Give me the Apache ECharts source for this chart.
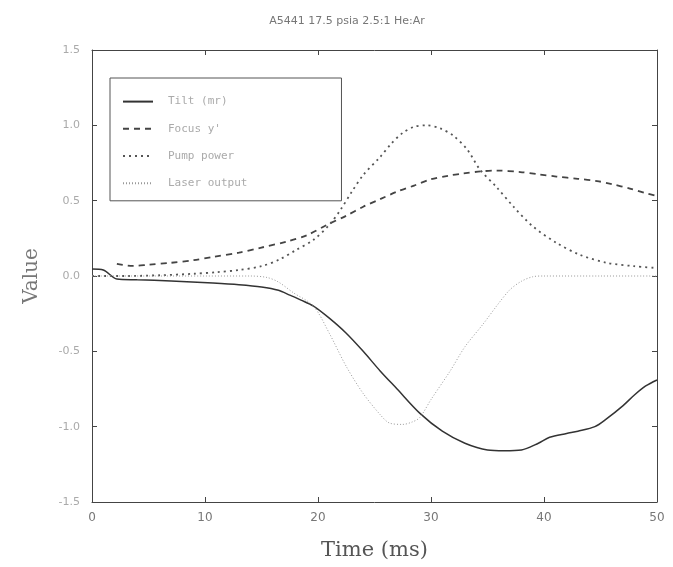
<!DOCTYPE html>
<html><head><meta charset="utf-8">
<script src="https://cdn.jsdelivr.net/npm/echarts@6/dist/echarts.min.js"></script>
<style>html,body{margin:0;padding:0;background:#fff}#c{width:673px;height:567px}</style>
</head><body><div id="c"></div>
<script>
var titleText = "A5441 17.5 psia 2.5:1 He:Ar";
var seriesNames = ["Tilt (mr)", "Focus y'", "Pump power", "Laser output"];

var tiltX = [0, 1, 2.2, 4, 7, 10.7, 13, 15, 16.5, 17.5, 18.5, 19.6, 21, 22.5, 24, 25.5, 27, 29, 31, 33, 35, 36.5, 38, 39.5, 40.5, 42, 43, 44.5, 45.5, 47, 48, 49, 50];
var tiltY = [0.047, 0.04, -0.02, -0.025, -0.033, -0.047, -0.058, -0.073, -0.095, -0.127, -0.16, -0.2, -0.28, -0.38, -0.5, -0.63, -0.75, -0.91, -1.03, -1.11, -1.155, -1.16, -1.155, -1.11, -1.07, -1.045, -1.03, -1.0, -0.95, -0.86, -0.79, -0.73, -0.69];

var focusX = [2.2, 3.6, 5, 6.9, 9, 10.7, 13, 14.9, 17.3, 19, 20.8, 22.5, 24, 25.5, 27, 28.5, 29.9, 31.5, 32.8, 34.5, 35.8, 37.9, 39.5, 41.1, 43, 44.7, 46, 47.6, 49, 50];
var focusY = [0.08, 0.067, 0.075, 0.087, 0.105, 0.127, 0.155, 0.187, 0.23, 0.27, 0.34, 0.4, 0.46, 0.51, 0.56, 0.6, 0.64, 0.665, 0.68, 0.695, 0.70, 0.69, 0.675, 0.66, 0.645, 0.63, 0.61, 0.58, 0.55, 0.53];

var pumpX = [0, 3, 6, 9, 11, 13, 15, 16.6, 18, 19.6, 21, 22, 23, 24, 25.5, 26.5, 27.5, 28.5, 29.6, 30.8, 32, 33.2, 34.3, 35.8, 37.3, 39, 41.1, 43.2, 45.6, 48, 50];
var pumpY = [0, 0, 0.005, 0.015, 0.025, 0.04, 0.065, 0.11, 0.17, 0.24, 0.34, 0.44, 0.56, 0.67, 0.79, 0.88, 0.95, 0.99, 1.0, 0.98, 0.93, 0.84, 0.71, 0.59, 0.46, 0.33, 0.22, 0.14, 0.087, 0.065, 0.053];

var laserX = [0, 5, 10, 14, 15.5, 16.5, 17.8, 19.6, 21, 22.5, 24, 25.5, 26.3, 27.5, 28.3, 29, 30, 31.7, 33, 34.6, 36, 37, 38, 39, 40, 45, 50];
var laserY = [0, 0, 0, 0, -0.01, -0.04, -0.11, -0.2, -0.38, -0.6, -0.78, -0.92, -0.975, -0.985, -0.97, -0.94, -0.82, -0.63, -0.47, -0.32, -0.18, -0.09, -0.035, -0.005, 0, 0, 0];

var xTicks = [0, 10, 20, 30, 40, 50];
var yTicks = [-1.5, -1.0, -0.5, 0.0, 0.5, 1.0, 1.5];

function pairs(xs, ys) { return xs.map(function (x, i) { return [x, ys[i]]; }); }

var chart = echarts.init(document.getElementById('c'));
var axisLine = { show: true, onZero: false, lineStyle: { color: '#444', width: 1 } };
var tickIn = { show: true, inside: true, length: 5, lineStyle: { color: '#444' } };
chart.setOption({
  animation: false,
  backgroundColor: '#fff',
  title: { text: titleText, left: 342, textAlign: 'center', top: 11,
    textStyle: { fontFamily: 'DejaVu Sans', fontSize: 11, fontWeight: 'normal', color: '#777' } },
  grid: { left: 92, right: 16, top: 50, bottom: 65 },
  legend: {
    orient: 'vertical', left: 110, top: 78,
    data: seriesNames,
    itemWidth: 30, itemHeight: 14, itemGap: 16,
    padding: [18, 94, 12, 12],
    borderColor: '#555', borderWidth: 1,
    itemStyle: { opacity: 0 },
    textStyle: { fontFamily: 'DejaVu Sans Mono', fontSize: 11, color: '#aaa', padding: [0, 0, 0, 10] }
  },
  xAxis: [{
    type: 'value', min: 0, max: 50, interval: 10,
    name: 'Time (ms)', nameLocation: 'middle', nameGap: 38,
    nameTextStyle: { fontFamily: 'DejaVu Serif', fontSize: 21, color: '#555' },
    axisLine: axisLine, axisTick: tickIn, splitLine: { show: false },
    axisLabel: { margin: 10, fontFamily: 'DejaVu Sans', fontSize: 12, color: '#777' }
  }, {
    type: 'value', min: 0, max: 50, interval: 10, position: 'top',
    axisLine: axisLine, axisTick: tickIn, splitLine: { show: false }, axisLabel: { show: false }
  }],
  yAxis: [{
    type: 'value', min: -1.5, max: 1.5, interval: 0.5,
    name: 'Value', nameLocation: 'middle', nameGap: 50,
    nameTextStyle: { fontFamily: 'DejaVu Serif', fontSize: 20, color: '#777' },
    axisLine: axisLine, axisTick: tickIn, splitLine: { show: false },
    axisLabel: { margin: 12, fontFamily: 'DejaVu Sans', fontSize: 11, color: '#aaa',
      formatter: function (v) { return v.toFixed(1); } }
  }, {
    type: 'value', min: -1.5, max: 1.5, interval: 0.5, position: 'right',
    axisLine: axisLine, axisTick: tickIn, splitLine: { show: false }, axisLabel: { show: false }
  }],
  series: [
    { name: seriesNames[0], type: 'line', data: pairs(tiltX, tiltY), showSymbol: false, symbol: 'none', smooth: 0.3,
      lineStyle: { color: '#333', width: 1.5, type: 'solid' }, itemStyle: { color: '#333' } },
    { name: seriesNames[1], type: 'line', data: pairs(focusX, focusY), showSymbol: false, symbol: 'none', smooth: 0.3,
      lineStyle: { color: '#444', width: 1.8, type: [6, 5] }, itemStyle: { color: '#444' } },
    { name: seriesNames[2], type: 'line', data: pairs(pumpX, pumpY), showSymbol: false, symbol: 'none', smooth: 0.3,
      lineStyle: { color: '#555', width: 1.8, type: [2, 4] }, itemStyle: { color: '#555' } },
    { name: seriesNames[3], type: 'line', data: pairs(laserX, laserY), showSymbol: false, symbol: 'none', smooth: 0.3,
      lineStyle: { color: '#999', width: 1, type: [1, 2] }, itemStyle: { color: '#999' } }
  ]
});
</script></body></html>
